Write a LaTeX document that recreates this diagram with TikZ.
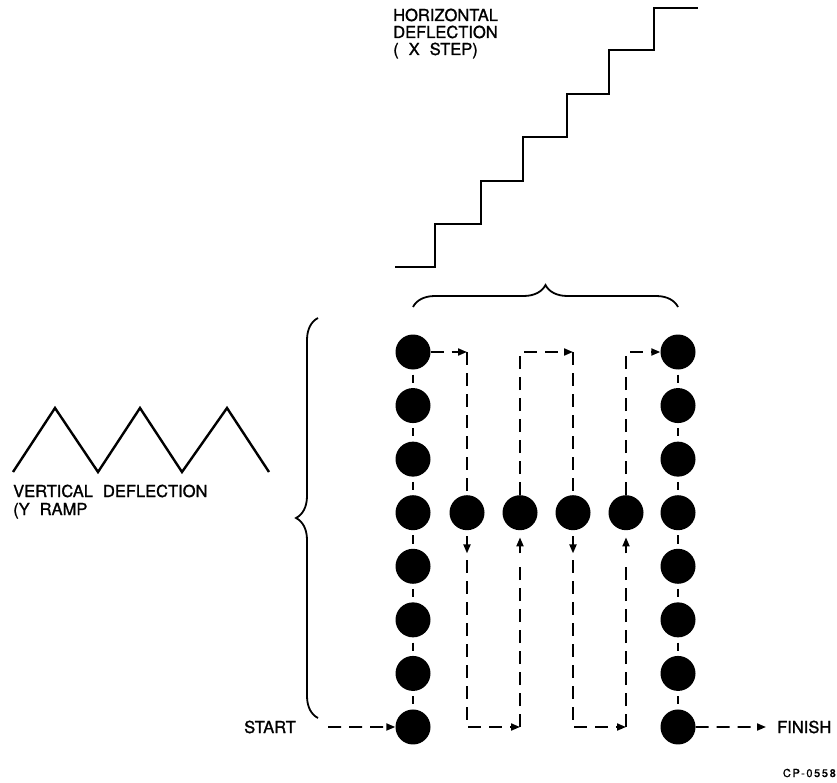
\documentclass[tikz,border=0pt]{standalone}
\usepackage{fontspec}
\setmainfont{TeX Gyre Heros}[FakeBold=1.2]
\usetikzlibrary{arrows.meta,calc,decorations.pathreplacing}
\newcommand\lblfontcmd{\fontsize{16.5}{17}\selectfont\spaceskip 10pt\relax}
\begin{document}
\begin{tikzpicture}[x=1pt,y=-1pt,
  dot/.style={circle,fill=black,inner sep=0pt,minimum size=35pt},
  lbl/.style={font=\lblfontcmd, inner sep=0pt},
  dl/.style={line width=1.9pt, dash pattern=on 13pt off 8pt},
  ln/.style={line width=1.9pt},
  seg/.style={line width=1.9pt, shorten <=5pt, shorten >=5pt},
  wave/.style={line width=2.4pt, line join=miter},
  tip/.style={-{Triangle[length=9pt,width=7pt]}},
  brc/.style={line width=1.8pt, decorate, decoration={brace, amplitude=22pt}}
]
\useasboundingbox (0,0) rectangle (837,783);

% staircase
\draw[wave] (395,267) -| (435,224) -| (481,181) -| (523,137) -| (567,94) -| (609,50) -| (654,8) -- (698,8);
% triangle wave
\draw[wave] (13,472) -- (55,408) -- (98,472) -- (140,408) -- (182,472) -- (227,408) -- (269,472);

% braces
\draw[brc] (413,307) -- (678,307);
\draw[brc] (318,718) -- (318,318);

% labels
\node[lbl,anchor=base west] (h1) at (393,21) {HORIZONTAL};
\node[lbl,anchor=base west] (h2) at (393,38) {DEFLECTION};
\node[lbl,anchor=base west] (h3) at (393,55) {( X STEP)};
\node[lbl,anchor=base west] (v1) at (13,497) {VERTICAL DEFLECTION};
\node[lbl,anchor=base west] (v2) at (13,515) {(Y RAMP};
\node[lbl,anchor=base east] (st) at (296,733) {START};
\node[lbl,anchor=base west] (fin) at (777,733) {FINISH};
\node[inner sep=0pt,anchor=base east,font=\fontsize{11}{12}\selectfont\addfontfeatures{LetterSpace=15}] (cp) at (836,777) {CP-0558};

% dots
\foreach \r in {1,...,8} {
  \node[dot] (L\r) at (413,{352+(\r-1)*53.57}) {};
  \node[dot] (R\r) at (678,{352+(\r-1)*53.57}) {};
}
\node[dot] (M2) at (467,512.7) {};
\node[dot] (M3) at (520,512.7) {};
\node[dot] (M4) at (573,512.7) {};
\node[dot] (M5) at (626,512.7) {};

\foreach \r [evaluate=\r as \s using int(\r+1)] in {1,...,7} {
  \draw[seg] (L\r.south) -- (L\s.north);
  \draw[seg] (R\r.south) -- (R\s.north);
}

% corners
\coordinate (T2) at (467,352);
\coordinate (B2) at (467,727);
\coordinate (T3) at (520,352);
\coordinate (B3) at (520,727);
\coordinate (T4) at (573,352);
\coordinate (B4) at (573,727);
\coordinate (T5) at (626,352);
\coordinate (B5) at (626,727);
\coordinate (S) at (328,727);
\coordinate (F) at (766,727);
\coordinate (c2) at ($(M2.south)+(0,30)$);
\coordinate (c3) at ($(M3.south)+(0,30)$);
\coordinate (c4) at ($(M4.south)+(0,30)$);
\coordinate (c5) at ($(M5.south)+(0,30)$);

% scan path
\draw[dl,tip] (S) -- (L8.west);
\draw[dl,tip] (L1.east) -- (T2);
\draw[dl] (T2) -- (M2.north);
\draw[ln,tip] ($(M2.south)+(0,6)$) -- ($(M2.south)+(0,23)$);
\draw[dl,tip] (c2) -- (B2) -- (B3);
\draw[dl] (B3) -- (c3);
\draw[ln,tip] ($(M3.south)+(0,23)$) -- ($(M3.south)+(0,7)$);
\draw[dl,tip] (M3.north) -- (T3) -- (T4);
\draw[dl] (T4) -- (M4.north);
\draw[ln,tip] ($(M4.south)+(0,6)$) -- ($(M4.south)+(0,23)$);
\draw[dl,tip] (c4) -- (B4) -- (B5);
\draw[dl] (B5) -- (c5);
\draw[ln,tip] ($(M5.south)+(0,23)$) -- ($(M5.south)+(0,7)$);
\draw[dl,tip] (M5.north) -- (T5) -- (R1.west);
\draw[dl,tip] (R8.east) -- (F);
\end{tikzpicture}
\end{document}
